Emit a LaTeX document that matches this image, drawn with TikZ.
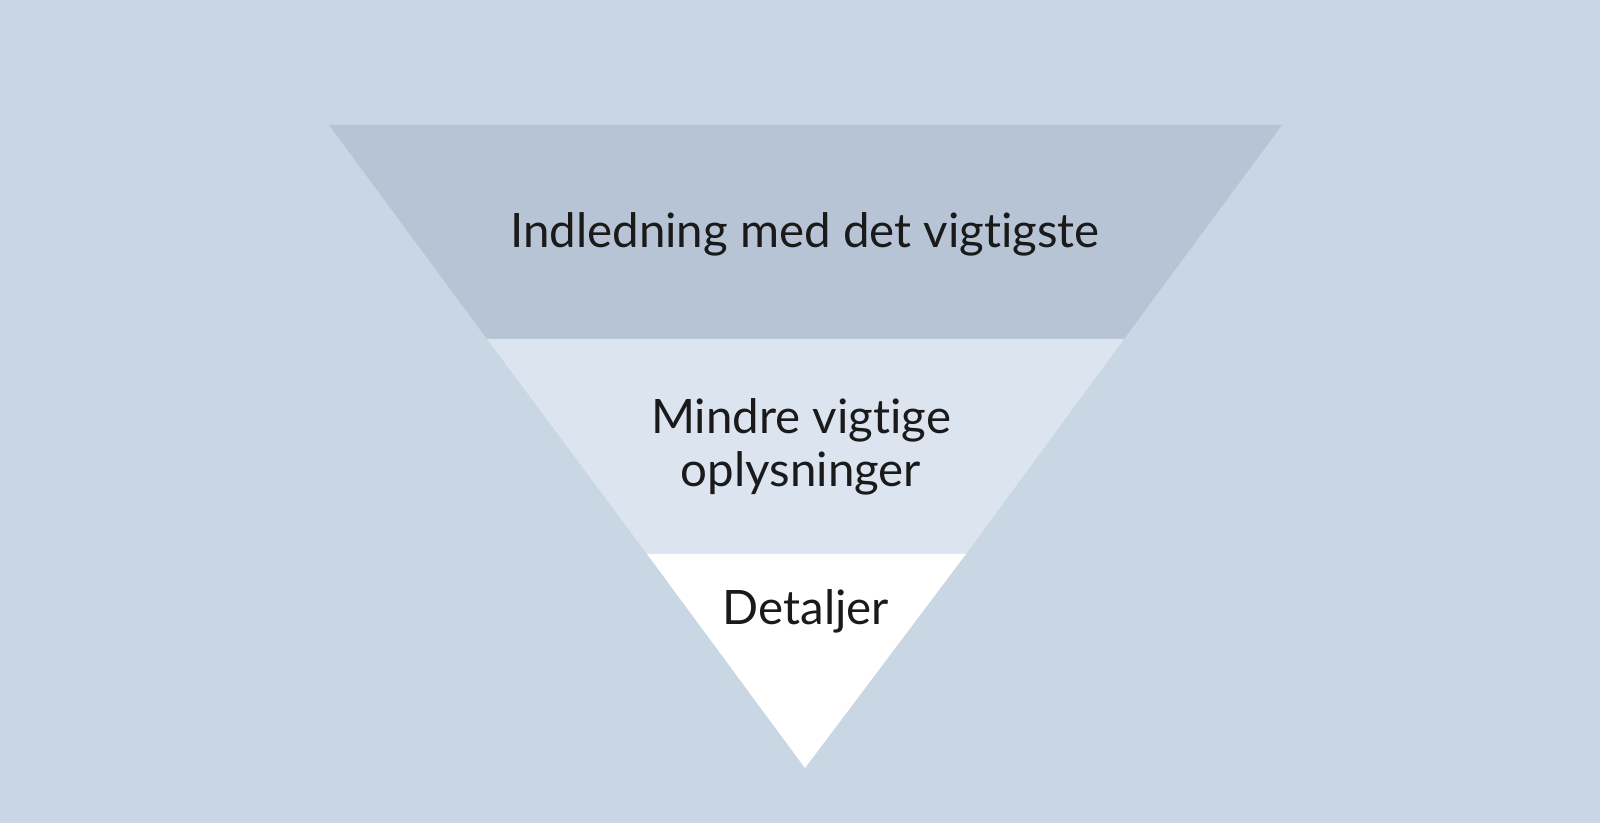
\documentclass[tikz,border=0pt]{standalone}
\usepackage{fontspec}
\setmainfont{Lato}[Ligatures=NoCommon]
\usepackage{xcolor}
\definecolor{pagebg}{HTML}{C9D6E3}
\definecolor{bandtop}{HTML}{B7C4D5}
\definecolor{bandmid}{HTML}{DCE5EF}
\definecolor{inktext}{HTML}{1A1A1A}
\tikzset{bandlabel/.style={text=inktext,align=center,anchor=base,inner sep=0pt,font=\fontsize{13.5}{15.3}\selectfont}}

\begin{document}
\begin{tikzpicture}[x=0.1mm,y=-0.1mm]
\fill[pagebg] (0,0) rectangle (1600,823);
\useasboundingbox (0,0) rectangle (1600,823);
% the three bands of the funnel
\fill[bandtop] (329,125) -- (1282,125) -- (1124,339) -- (487,339) -- cycle;
\fill[bandmid] (487,339) -- (1124,339) -- (966,554) -- (647,554) -- cycle;
\fill[white] (647,554) -- (966,554) -- (805,768) -- cycle;
\node[bandlabel] (lead) at (805,248) {Indledning med det vigtigste};
\node[bandlabel] (body) at (801,487) {Mindre vigtige\\oplysninger};
\node[bandlabel] (tail) at (806,625) {Detaljer};
\end{tikzpicture}
\end{document}
